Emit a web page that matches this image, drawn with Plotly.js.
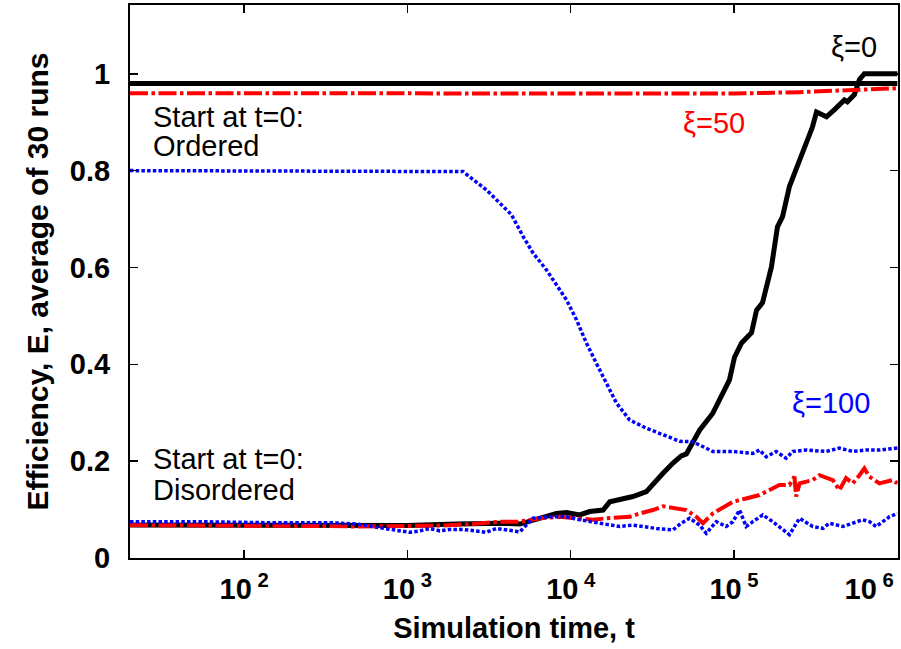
<!DOCTYPE html>
<html>
<head>
<meta charset="utf-8">
<script src="https://cdn.plot.ly/plotly-3.0.1.min.js"></script>
<style>html,body{margin:0;padding:0;background:#fff;}#chart{width:901px;height:649px;}</style>
</head>
<body>
<div id="chart"></div>
<script>
// Start ordered, xi = 0 (black)
const tOrd0 = [20, 10000, 100000, 1000000];
const eOrd0 = [0.98, 0.98, 0.979, 0.98];
// Start ordered, xi = 50 (red)
const tOrd50 = [20, 1000, 3000, 30000, 100000, 250000, 500000, 1000000];
const eOrd50 = [0.96, 0.959, 0.958, 0.958, 0.959, 0.962, 0.965, 0.970];
// Start ordered, xi = 100 (blue)
const tOrd100 = [20, 2190, 3048, 4335, 5105, 5875, 7096, 8570, 9420, 10840, 12470, 14350, 16520, 19050, 22960, 29040, 38460, 46450, 55980, 74130, 98400, 130300, 143200, 157400, 181100, 208400, 229100, 276100, 365600, 441600, 533300, 642700, 776200, 1000000];
const eOrd100 = [0.8, 0.798, 0.760, 0.709, 0.664, 0.630, 0.595, 0.554, 0.533, 0.492, 0.444, 0.402, 0.361, 0.320, 0.285, 0.268, 0.252, 0.241, 0.240, 0.220, 0.220, 0.216, 0.223, 0.209, 0.220, 0.206, 0.220, 0.223, 0.220, 0.227, 0.220, 0.223, 0.223, 0.227];
// Start disordered, xi = 0 (black)
const tDis0 = [20, 100, 500, 1000, 2000, 3680, 4880, 6460, 8180, 9420, 11350, 13060, 15780, 17340, 19950, 24040, 29040, 33420, 36730, 42270, 47530, 51050, 55980, 61520, 74130, 85510, 93760, 100700, 111200, 127900, 137400, 149300, 169400, 184500, 198200, 218300, 251800, 281800, 302000, 319900, 368100, 412100, 474200, 494300, 545800, 586100, 628100, 1000000];
const eDis0 = [0.068, 0.067, 0.066, 0.067, 0.070, 0.072, 0.070, 0.082, 0.092, 0.094, 0.089, 0.096, 0.099, 0.116, 0.120, 0.127, 0.137, 0.161, 0.175, 0.196, 0.211, 0.215, 0.237, 0.264, 0.299, 0.340, 0.368, 0.415, 0.444, 0.465, 0.512, 0.527, 0.601, 0.684, 0.705, 0.767, 0.822, 0.864, 0.890, 0.921, 0.911, 0.926, 0.946, 0.942, 0.957, 0.988, 1.0, 1.0];
// Start disordered, xi = 50 (red)
const tDis50 = [20, 100, 316, 500, 1000, 1585, 2512, 3680, 4880, 6460, 8570, 11350, 13710, 16520, 19950, 22960, 26420, 31840, 36730, 42270, 51050, 58750, 64570, 74130, 98400, 118600, 143200, 157400, 189700, 218300, 234400, 239900, 251800, 303400, 333400, 402700, 441600, 485300, 533300, 586100, 628100, 674500, 776200, 937600, 1000000];
const eDis50 = [0.068, 0.068, 0.066, 0.065, 0.066, 0.067, 0.070, 0.075, 0.075, 0.082, 0.085, 0.082, 0.079, 0.082, 0.084, 0.085, 0.092, 0.099, 0.107, 0.103, 0.099, 0.085, 0.072, 0.092, 0.116, 0.123, 0.130, 0.137, 0.151, 0.151, 0.168, 0.127, 0.154, 0.161, 0.171, 0.161, 0.140, 0.165, 0.154, 0.171, 0.185, 0.168, 0.154, 0.161, 0.154];
// Start disordered, xi = 100 (blue)
const tDis100 = [20, 51, 131, 336, 489, 590, 711, 859, 1035, 1191, 1374, 1581, 1820, 2193, 2649, 3048, 3508, 4236, 4875, 5875, 7430, 9420, 11350, 15030, 19950, 24040, 27670, 33420, 42270, 47530, 53460, 61520, 67610, 77800, 89540, 98400, 108100, 118600, 130300, 150000, 172600, 218300, 251800, 303400, 349900, 383700, 463400, 533300, 613800, 674500, 741300, 893300, 1000000];
const eDis100 = [0.075, 0.075, 0.073, 0.073, 0.070, 0.066, 0.061, 0.058, 0.053, 0.056, 0.061, 0.056, 0.059, 0.059, 0.056, 0.053, 0.061, 0.056, 0.054, 0.082, 0.085, 0.085, 0.079, 0.072, 0.065, 0.068, 0.065, 0.061, 0.058, 0.072, 0.082, 0.068, 0.051, 0.075, 0.065, 0.075, 0.099, 0.065, 0.075, 0.089, 0.075, 0.048, 0.082, 0.065, 0.061, 0.072, 0.065, 0.072, 0.079, 0.075, 0.065, 0.085, 0.092];

const NB = '\u00a0';
const xTickVals = [100, 1000, 10000, 100000, 1000000];
const xTickText = ['10<sup> 2</sup>', '10<sup> 3</sup>', '10<sup> 4</sup>', '10<sup> 5</sup>', '10<sup> 6</sup>' + NB.repeat(7)];
const yTickVals = [0, 0.2, 0.4, 0.6, 0.8, 1];
const yTickText = ['0', '0.2', '0.4', '0.6', '0.8', '1'];

const BLACK = '#000000', RED = '#ff0000', BLUE = '#0000ff';
const styleBlack = {color: BLACK, width: 5};
const styleRed = {color: RED, width: 4, dash: '18px,3.5px,3.5px,3.5px'};
const styleBlue = {color: BLUE, width: 3.5, dash: '3.5px,2.2px'};

const traces = [
  {x: tOrd0, y: eOrd0, mode: 'lines', line: styleBlack, name: 'ordered xi=0'},
  {x: tDis0, y: eDis0, mode: 'lines', line: styleBlack, name: 'disordered xi=0'},
  {x: tOrd50, y: eOrd50, mode: 'lines', line: styleRed, name: 'ordered xi=50'},
  {x: tDis50, y: eDis50, mode: 'lines', line: styleRed, name: 'disordered xi=50'},
  {x: tOrd100, y: eOrd100, mode: 'lines', line: styleBlue, name: 'ordered xi=100'},
  {x: tDis100, y: eDis100, mode: 'lines', line: styleBlue, name: 'disordered xi=100'}
];

const FONT = '"Liberation Sans", Arial, Helvetica, sans-serif';
const txt = (text, x, y, color) => ({text: text, x: x, y: y, xref: 'x', yref: 'y', xanchor: 'left', yanchor: 'middle', showarrow: false, font: {family: FONT, size: 29, color: color}});

const layout = {
  width: 901, height: 649,
  margin: {l: 130, r: 3, t: 5, b: 91},
  paper_bgcolor: '#fff', plot_bgcolor: '#fff',
  showlegend: false,
  font: {family: FONT, color: '#000'},
  xaxis: {
    type: 'log', range: [Math.log10(20), 6.004],
    tickvals: xTickVals, ticktext: xTickText,
    ticks: 'inside', ticklen: 8, tickwidth: 1.5, tickcolor: '#000',
    showline: true, linecolor: '#000', linewidth: 2, mirror: 'ticks',
    showgrid: false, zeroline: false,
    ticklabeloverflow: 'allow',
    tickfont: {family: FONT, size: 29, color: '#000', weight: 'bold'},
    ticklabelstandoff: 4,
    title: {text: '<b>Simulation time, t</b>', font: {family: FONT, size: 29, color: '#000'}, standoff: 14}
  },
  yaxis: {
    range: [0, 1.142],
    tickvals: yTickVals, ticktext: yTickText,
    ticks: 'inside', ticklen: 8, tickwidth: 1.5, tickcolor: '#000',
    showline: true, linecolor: '#000', linewidth: 2, mirror: 'ticks',
    showgrid: false, zeroline: false,
    tickfont: {family: FONT, size: 29, color: '#000', weight: 'bold'},
    ticklabelstandoff: 12,
    title: {text: '<b>Efficiency, E, average of 30 runs</b>', font: {family: FONT, size: 30, color: '#000'}, standoff: 12}
  },
  annotations: [
    txt('ξ=0', 5.58, 1.056, BLACK),
    txt('ξ=50', 4.675, 0.899, RED),
    txt('ξ=100', 5.345, 0.320, BLUE),
    txt('Start at t=0:', 1.43, 0.911, BLACK),
    txt('Ordered', 1.43, 0.851, BLACK),
    txt('Start at t=0:', 1.43, 0.2045, BLACK),
    txt('Disordered', 1.43, 0.1405, BLACK)
  ]
};

Plotly.newPlot('chart', traces, layout, {displayModeBar: false, staticPlot: true});
</script>
</body>
</html>
